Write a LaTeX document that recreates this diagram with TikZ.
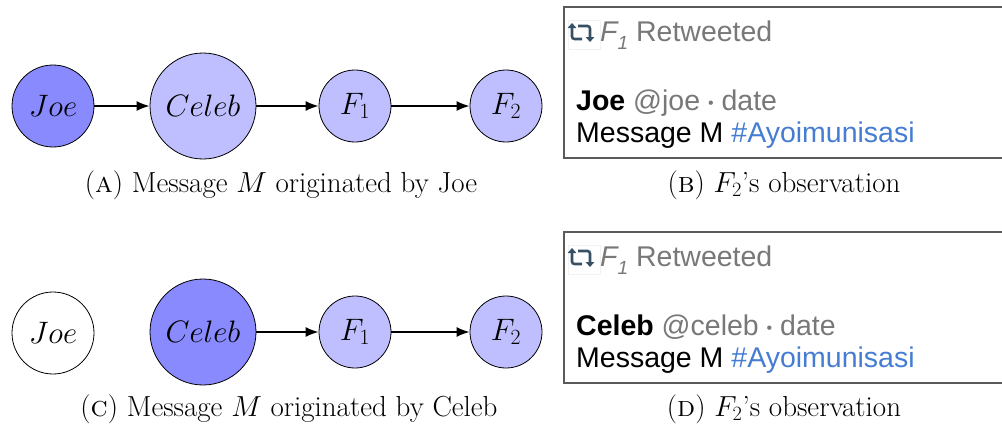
\RequirePackage{fix-cm}
\documentclass[tikz,border=0pt]{standalone}
\usepackage{fontspec}
\newfontfamily\twfont{Liberation Sans}
\usetikzlibrary{arrows.meta}
\definecolor{nodedark}{RGB}{138,138,255}
\definecolor{nodelight}{RGB}{191,191,255}
\definecolor{twgray}{RGB}{120,120,120}
\definecolor{twblue}{RGB}{70,125,210}
\definecolor{iconcol}{RGB}{55,80,100}
\definecolor{boxcol}{RGB}{90,90,90}
\tikzset{
  circ/.style={circle, draw=black, line width=0.8pt, inner sep=0pt,
    font=\fontsize{31}{36}\selectfont},
  darkc/.style={circ, fill=nodedark},
  lightc/.style={circ, fill=nodelight},
  blankc/.style={circ, fill=white},
  bigc/.style={minimum size=106pt},
  joec/.style={minimum size=82pt},
  fc/.style={minimum size=72pt},
  arr/.style={line width=1.6pt, -{Latex[length=13pt,width=10pt]}},
  captext/.style={anchor=base, inner sep=0pt, font=\fontsize{29}{34}\selectfont},
  tw/.style={anchor=base west, inner sep=0pt, font=\twfont\fontsize{28.5}{32}\selectfont},
  twbox/.style={draw=boxcol, line width=1.5pt},
  rticon/.style={draw=iconcol, line width=2.6pt, rounded corners=2.5pt,
    -{Triangle[length=5pt,width=8.5pt]}},
  faint/.style={draw=black!5, line width=0.6pt},
}
\newcommand{\twdot}{{\fontsize{16}{16}\selectfont\raisebox{2pt}{\textbullet}}}
\begin{document}
\begin{tikzpicture}[x=1pt,y=-1pt]
\useasboundingbox (0,0) rectangle (1002,431);

% ---------- (a) ----------
\node[darkc, joec]  (joeA) at (53,106)  {$Joe$};
\node[lightc, bigc] (celA) at (203,106) {$Celeb$};
\node[lightc, fc]   (f1A)  at (355,106) {$F_1$};
\node[lightc, fc]   (f2A)  at (506,106) {$F_2$};
\draw[arr] (joeA) -- (celA);
\draw[arr] (celA) -- (f1A);
\draw[arr] (f1A) -- (f2A);
\node[captext] (capA) at (281,192) {(\textsc{a}) Message $M$ originated by Joe};

% ---------- (c) ----------
\node[blankc, joec] (joeC) at (53,333)  {$Joe$};
\node[darkc, bigc]  (celC) at (203,332) {$Celeb$};
\node[lightc, fc]   (f1C)  at (355,332) {$F_1$};
\node[lightc, fc]   (f2C)  at (506,332) {$F_2$};
\draw[arr] (celC) -- (f1C);
\draw[arr] (f1C) -- (f2C);
\node[captext] (capC) at (289,416) {(\textsc{c}) Message $M$ originated by Celeb};

% ---------- (b) ----------
\draw[twbox] (1002,7) -- (564,7) -- (564,158) -- (1002,158);
\draw[faint] (568,20) rectangle (600,49);
\draw[rticon] (582,39) -- (572,39) -- (572,23);
\draw[rticon] (578,26) -- (590,26) -- (590,42);
\node[tw, text=twgray] (rtB) at (600,41) {{\itshape F\raisebox{-0.3em}{\fontsize{19}{19}\selectfont 1}} Retweeted};
\node[tw] (userB) at (576,110) {\textbf{Joe} \textcolor{twgray}{@joe \twdot{} date}};
\node[tw] (msgB) at (576,142) {Message M \textcolor{twblue}{\#Ayoimunisasi}};
\node[captext] (capB) at (784,192) {(\textsc{b}) $F_2$'s observation};

% ---------- (d) ----------
\draw[twbox] (1002,232) -- (564,232) -- (564,383) -- (1002,383);
\draw[faint] (568,245) rectangle (600,274);
\draw[rticon] (582,264) -- (572,264) -- (572,248);
\draw[rticon] (578,251) -- (590,251) -- (590,267);
\node[tw, text=twgray] (rtD) at (600,266) {{\itshape F\raisebox{-0.3em}{\fontsize{19}{19}\selectfont 1}} Retweeted};
\node[tw] (userD) at (576,335) {\textbf{Celeb} \textcolor{twgray}{@celeb \twdot{} date}};
\node[tw] (msgD) at (576,367) {Message M \textcolor{twblue}{\#Ayoimunisasi}};
\node[captext] (capD) at (784,416) {(\textsc{d}) $F_2$'s observation};
\end{tikzpicture}
\end{document}
